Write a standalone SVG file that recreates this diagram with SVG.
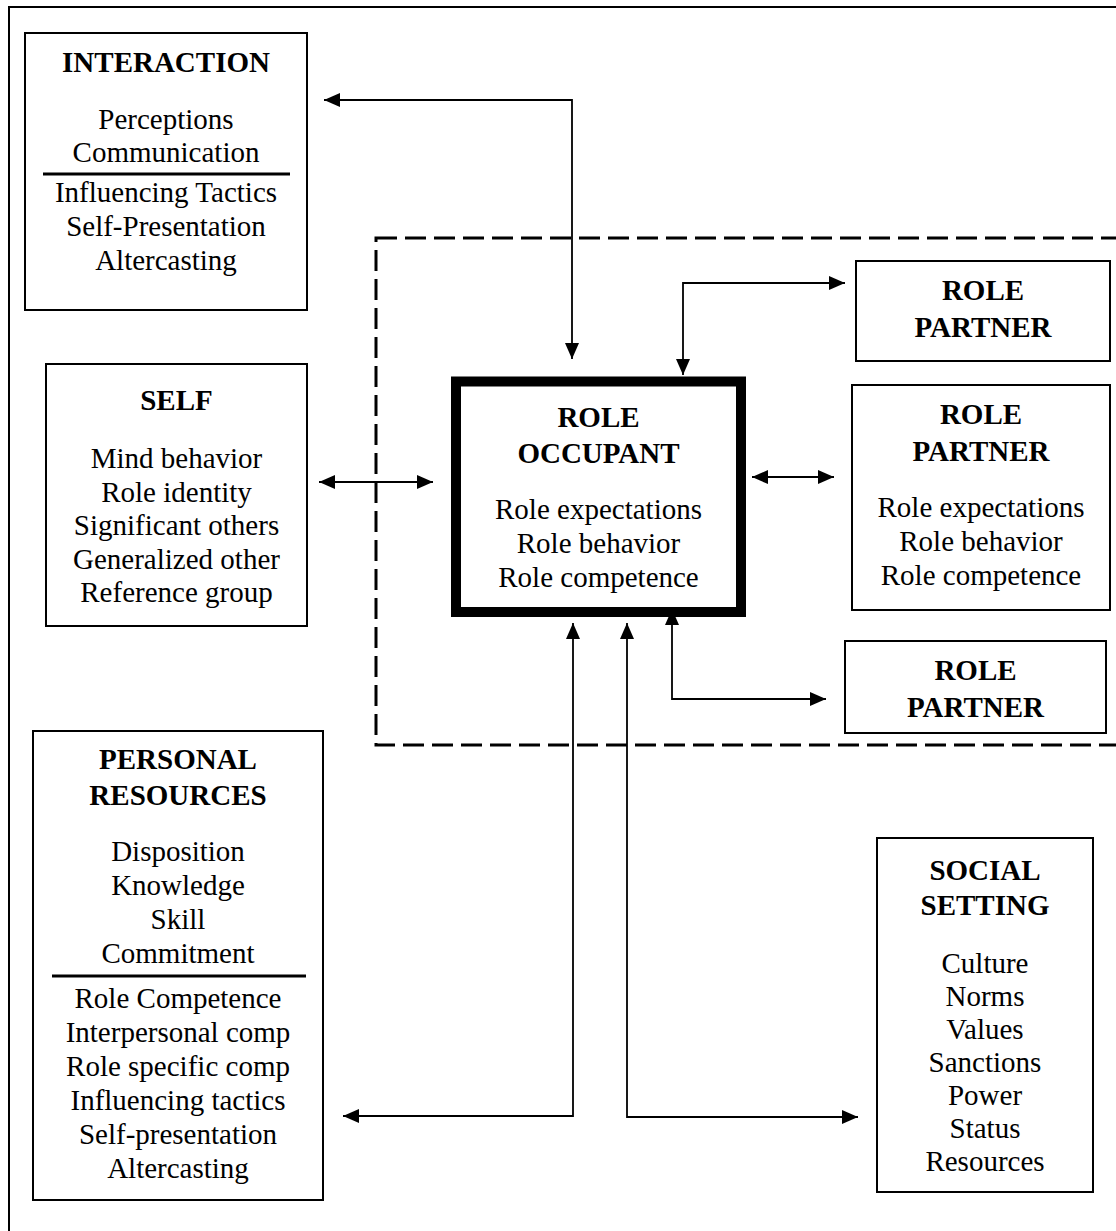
<svg xmlns="http://www.w3.org/2000/svg" width="1116" height="1231" viewBox="0 0 1116 1231">
<style>
.box{fill:#fff;stroke:#000;stroke-width:2}
.thick{fill:#fff;stroke:#000;stroke-width:10}
.sep{stroke:#000;stroke-width:3}
.conn{fill:none;stroke:#000;stroke-width:1.8;marker-start:url(#ah);marker-end:url(#ah)}
text{font-family:"Liberation Serif","Times New Roman",serif;font-size:29px;text-anchor:middle;fill:#000}
.t{font-weight:bold}
</style>
<defs>
<marker id="ah" markerUnits="userSpaceOnUse" markerWidth="16" markerHeight="15" refX="16" refY="7" orient="auto-start-reverse">
<path d="M0,0 L16,7 L0,14 z" fill="#000"/>
</marker>
</defs>
<rect x="9" y="7" width="1200" height="1300" fill="none" stroke="#000" stroke-width="2"/>
<rect x="376" y="238" width="800" height="507" fill="none" stroke="#000" stroke-width="3" stroke-dasharray="21 8"/>
<g id="connectors">
<path class="conn" d="M324 100 H572 V359"/>
<path class="conn" d="M683 375 V283 H845"/>
<path class="conn" d="M319 482 H433"/>
<path class="conn" d="M752 477 H834"/>
<path class="conn" d="M672 609 V699 H826"/>
<path class="conn" d="M573 623 V1116 H343"/>
<path class="conn" d="M627 623 V1117 H858"/>
</g>
<g id="interaction">
<rect class="box" x="25" y="33" width="282" height="277"/>
<text class="t" x="166" y="72">INTERACTION</text>
<text x="166" y="129">Perceptions</text>
<text x="166" y="162">Communication</text>
<line class="sep" x1="43" y1="174" x2="290" y2="174"/>
<text x="166" y="202">Influencing Tactics</text>
<text x="166" y="236">Self-Presentation</text>
<text x="166" y="270">Altercasting</text>
</g>
<g id="self">
<rect class="box" x="46" y="364" width="261" height="262"/>
<text class="t" x="176.5" y="410">SELF</text>
<text x="176.5" y="468">Mind behavior</text>
<text x="176.5" y="502">Role identity</text>
<text x="176.5" y="535">Significant others</text>
<text x="176.5" y="569">Generalized other</text>
<text x="176.5" y="602">Reference group</text>
</g>
<g id="role-occupant">
<rect class="thick" x="456" y="381.5" width="285" height="230.5"/>
<text class="t" x="598.5" y="427">ROLE</text>
<text class="t" x="598.5" y="463">OCCUPANT</text>
<text x="598.5" y="519">Role expectations</text>
<text x="598.5" y="553">Role behavior</text>
<text x="598.5" y="587">Role competence</text>
</g>
<g id="role-partner-1">
<rect class="box" x="856" y="261" width="254" height="100"/>
<text class="t" x="983" y="300">ROLE</text>
<text class="t" x="983" y="337">PARTNER</text>
</g>
<g id="role-partner-2">
<rect class="box" x="852" y="385" width="258" height="225"/>
<text class="t" x="981" y="424">ROLE</text>
<text class="t" x="981" y="461">PARTNER</text>
<text x="981" y="517">Role expectations</text>
<text x="981" y="551">Role behavior</text>
<text x="981" y="585">Role competence</text>
</g>
<g id="role-partner-3">
<rect class="box" x="845" y="641" width="261" height="92"/>
<text class="t" x="975.5" y="680">ROLE</text>
<text class="t" x="975.5" y="717">PARTNER</text>
</g>
<g id="personal-resources">
<rect class="box" x="33" y="731" width="290" height="469"/>
<text class="t" x="178" y="769">PERSONAL</text>
<text class="t" x="178" y="805">RESOURCES</text>
<text x="178" y="861">Disposition</text>
<text x="178" y="895">Knowledge</text>
<text x="178" y="929">Skill</text>
<text x="178" y="963">Commitment</text>
<line class="sep" x1="52" y1="976" x2="306" y2="976"/>
<text x="178" y="1008">Role Competence</text>
<text x="178" y="1042">Interpersonal comp</text>
<text x="178" y="1076">Role specific comp</text>
<text x="178" y="1110">Influencing tactics</text>
<text x="178" y="1144">Self-presentation</text>
<text x="178" y="1178">Altercasting</text>
</g>
<g id="social-setting">
<rect class="box" x="877" y="838" width="216" height="354"/>
<text class="t" x="985" y="880">SOCIAL</text>
<text class="t" x="985" y="915">SETTING</text>
<text x="985" y="973">Culture</text>
<text x="985" y="1006">Norms</text>
<text x="985" y="1039">Values</text>
<text x="985" y="1072">Sanctions</text>
<text x="985" y="1105">Power</text>
<text x="985" y="1138">Status</text>
<text x="985" y="1171">Resources</text>
</g>
</svg>
